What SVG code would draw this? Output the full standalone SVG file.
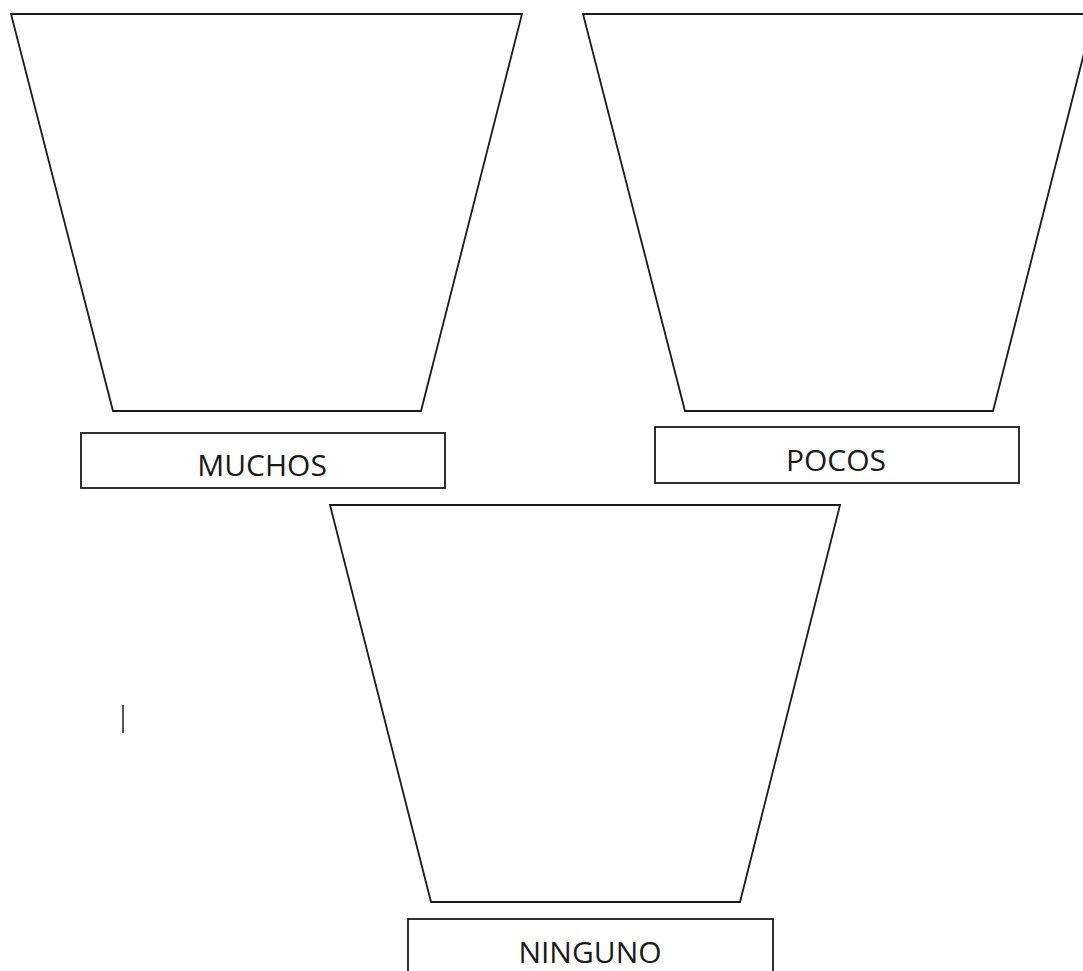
<svg xmlns="http://www.w3.org/2000/svg" width="1083" height="971" viewBox="0 0 1083 971">
<style>
.cup{fill:#fff;stroke:#1a1a1a;stroke-width:1.8;stroke-linejoin:miter}
.box{fill:#fff;stroke:#1a1a1a;stroke-width:1.8}
.lbl{font-family:"Open Sans","Noto Sans","Liberation Sans",sans-serif;font-size:30px;fill:#1a1a1a;text-anchor:middle}
</style>
<rect x="0" y="0" width="1083" height="971" fill="#fff"/>
<g id="cup-muchos">
<polygon class="cup" points="11,14 522,14 421,411 113,411"/>
<rect class="box" x="81" y="433" width="364" height="55"/>
<text class="lbl" x="262" y="476">MUCHOS</text>
</g>
<g id="cup-pocos">
<polygon class="cup" points="583,14 1094,14 993,411 685,411"/>
<rect class="box" x="655" y="427" width="364" height="56"/>
<text class="lbl" x="836" y="471">POCOS</text>
</g>
<g id="cup-ninguno">
<polygon class="cup" points="330,505 840,505 740,902 431,902"/>
<rect class="box" x="408" y="919" width="365" height="60"/>
<text class="lbl" x="590" y="963">NINGUNO</text>
</g>
<g id="connectors"></g>
<line x1="123" y1="705" x2="123" y2="733" stroke="#555" stroke-width="2"/>
</svg>
